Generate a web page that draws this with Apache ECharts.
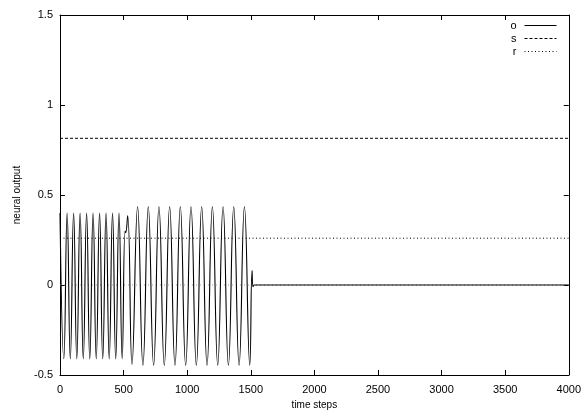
<!DOCTYPE html>
<html>
<head>
<meta charset="utf-8">
<script src="https://cdn.jsdelivr.net/npm/echarts@6/dist/echarts.min.js"></script>
<style>
html,body{margin:0;padding:0;background:#fff;}
#c{width:584px;height:415px;}
</style>
</head>
<body>
<div id="c"></div>
<script>
// x tick labels (time steps) and y tick labels (neural output)
var xTicks = [0, 500, 1000, 1500, 2000, 2500, 3000, 3500, 4000];
var yTicks = [-0.5, 0, 0.5, 1, 1.5];

// series "o": extremes of the oscillation (time step, value)
var oTime = [0, 30, 56, 81, 107, 132, 158, 183, 209, 234, 260, 285, 311, 336, 362, 387, 413, 438, 464, 489,
             511, 516, 532, 566,
             610, 652, 694, 736, 778, 820, 862, 904, 946, 988, 1030, 1072, 1114, 1156, 1198, 1240, 1282, 1324, 1366, 1408, 1450, 1492,
             1510, 1518, 1526, 4000];
var oValue = [0.40, -0.41, 0.40, -0.41, 0.40, -0.41, 0.40, -0.41, 0.40, -0.41, 0.40, -0.41, 0.40, -0.41, 0.40, -0.41, 0.40, -0.41, 0.40, -0.41,
              0.30, 0.29, 0.385, -0.44,
              0.435, -0.445, 0.435, -0.445, 0.435, -0.445, 0.435, -0.445, 0.435, -0.445, 0.435, -0.445, 0.435, -0.445, 0.435, -0.445, 0.435, -0.445, 0.435, -0.445, 0.435, -0.445,
              0.08, -0.01, 0, 0];

// series "s" and "r": constant levels
var sTime = [0, 4000];
var sValue = [0.815, 0.815];
var rTime = [0, 4000];
var rValue = [0.26, 0.26];

// zero axis
var zeroTime = [0, 4000];
var zeroValue = [0, 0];

function zip(a, b) { return a.map(function (v, i) { return [v, b[i]]; }); }

var chart = echarts.init(document.getElementById('c'), null, {renderer: 'canvas'});
var font = 'Liberation Sans, Arial, Helvetica, sans-serif';
var axisCommon = {
  axisLine: {show: true, onZero: false, lineStyle: {color: '#000', width: 1}},
  axisTick: {show: true, inside: true, length: 5, lineStyle: {color: '#000', width: 1}},
  splitLine: {show: false}
};
chart.setOption({
  animation: false,
  backgroundColor: '#fff',
  textStyle: {fontFamily: font},
  grid: {left: 60, right: 12, top: 15, bottom: 37, containLabel: false},
  legend: {
    orient: 'vertical',
    right: 27,
    top: 20,
    padding: 0,
    align: 'right',
    itemWidth: 32,
    itemHeight: 10,
    itemGap: 2,
    data: ['o', 's', 'r'],
    itemStyle: {opacity: 0},
    lineStyle: {width: 1},
    textStyle: {fontFamily: font, fontSize: 11, color: '#000', padding: [0, 3, 0, 0]}
  },
  xAxis: [
    Object.assign({
      type: 'value', position: 'bottom',
      min: xTicks[0], max: xTicks[xTicks.length - 1], interval: xTicks[1] - xTicks[0],
      name: 'time steps', nameLocation: 'middle', nameGap: 25,
      nameTextStyle: {fontFamily: font, fontSize: 10, color: '#000'},
      axisLabel: {show: true, margin: 9, fontFamily: font, fontSize: 11, color: '#000',
        formatter: function (v) { return String(v); }}
    }, axisCommon),
    Object.assign({
      type: 'value', position: 'top',
      min: xTicks[0], max: xTicks[xTicks.length - 1], interval: xTicks[1] - xTicks[0],
      axisLabel: {show: false}
    }, axisCommon)
  ],
  yAxis: [
    Object.assign({
      type: 'value', position: 'left',
      min: yTicks[0], max: yTicks[yTicks.length - 1], interval: yTicks[1] - yTicks[0],
      name: 'neural output', nameLocation: 'middle', nameGap: 38, nameRotate: 90,
      nameTextStyle: {fontFamily: font, fontSize: 10, color: '#000'},
      axisLabel: {show: true, margin: 7, fontFamily: font, fontSize: 11, color: '#000',
        formatter: function (v) { return String(v); }}
    }, axisCommon),
    Object.assign({
      type: 'value', position: 'right',
      min: yTicks[0], max: yTicks[yTicks.length - 1], interval: yTicks[1] - yTicks[0],
      axisLabel: {show: false}
    }, axisCommon)
  ],
  series: [
    {
      name: 'zero', type: 'line', data: zip(zeroTime, zeroValue),
      showSymbol: false, symbol: 'none', silent: true, z: 1,
      lineStyle: {color: '#a0a0a0', width: 1, type: [1, 3]}
    },
    {
      name: 'o', type: 'line', data: zip(oTime, oValue),
      showSymbol: false, symbol: 'none', smooth: 0.5, z: 3,
      lineStyle: {color: '#000', width: 1.1}, itemStyle: {color: '#000'}
    },
    {
      name: 's', type: 'line', data: zip(sTime, sValue),
      showSymbol: false, symbol: 'none', z: 2,
      lineStyle: {color: '#000', width: 1, type: [3, 2]}, itemStyle: {color: '#000'}
    },
    {
      name: 'r', type: 'line', data: zip(rTime, rValue),
      showSymbol: false, symbol: 'none', z: 2,
      lineStyle: {color: '#000', width: 1, type: [1, 2.5]}, itemStyle: {color: '#000'}
    }
  ]
});
</script>
</body>
</html>
